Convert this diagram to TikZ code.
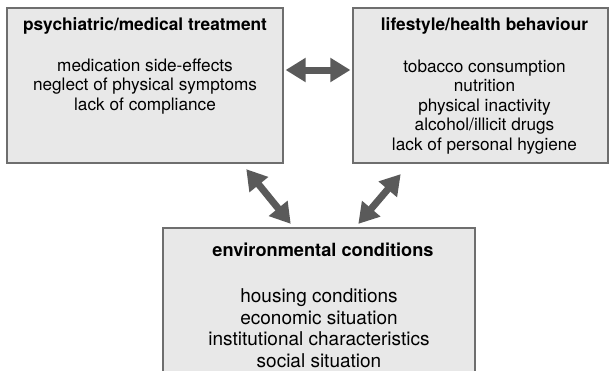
\documentclass[tikz,border=0pt]{standalone}
\usepackage{fontspec}
\setmainfont{TeX Gyre Heros}
\usetikzlibrary{arrows.meta,positioning}

\definecolor{boxfill}{HTML}{E8E8E8}
\definecolor{boxline}{HTML}{6E6E6E}
\definecolor{arrowgray}{HTML}{5A5A5A}

\begin{document}
\begin{tikzpicture}[x=1pt,y=1pt,semithick,
                    >={Triangle[width=23pt,length=20pt]}]
  \tikzstyle{box}=[draw=boxline,fill=boxfill,line width=1.2pt,inner sep=0pt]
  \tikzstyle{head}=[inner sep=0pt,anchor=base,font=\bfseries\fontsize{17.3}{19.5}\selectfont]
  \tikzstyle{bighead}=[inner sep=0pt,anchor=base,font=\bfseries\fontsize{18.2}{21}\selectfont]
  \tikzstyle{items}=[inner sep=0pt,anchor=base,align=center,font=\fontsize{17.2}{19.6}\selectfont]
  \tikzstyle{bigitems}=[inner sep=0pt,anchor=base,align=center,font=\fontsize{19}{21.7}\selectfont]
  \tikzstyle{link}=[<->,arrowgray,line width=7pt,shorten <=2pt,shorten >=2pt]

  \useasboundingbox (0,0) rectangle (609,-370);
  \clip (0,0) rectangle (609,-370);

  % the three boxes
  \node[box,minimum width=276,minimum height=155] (treat) at (145,-85.5) {};
  \node[box,minimum width=255,minimum height=155] (life)  at (480.5,-85.5) {};
  \node[box,minimum width=312,minimum height=170] (env)   at (319,-313) {};

  % texts (lists are placed by the baseline of their last line)
  \node[head] (treathead) at ([yshift=-23]treat.north) {psychiatric/medical treatment};
  \node[items] (treatlist) at ([yshift=-103]treat.north)
    {medication side-effects\\neglect of physical symptoms\\lack of compliance};

  \node[head] (lifehead) at ([xshift=4,yshift=-23.5]life.north) {lifestyle/health behaviour};
  \node[items] (lifelist) at ([xshift=4,yshift=-143]life.north)
    {tobacco consumption\\nutrition\\physical inactivity\\alcohol/illicit drugs\\lack of personal hygiene};

  \node[bighead] (envhead) at ([xshift=4,yshift=-29.5]env.north) {environmental conditions};
  \node[bigitems] (envlist) at ([yshift=-140]env.north)
    {housing conditions\\economic situation\\institutional characteristics\\social situation};

  % links
  \draw[link] ([yshift=15.5]treat.east) -- ([yshift=15.5]life.west);
  \draw[link] ([xshift=100,yshift=-4]treat.south) -- ([xshift=-27,yshift=2]env.north);
  \draw[link] ([xshift=38,yshift=2]env.north) -- ([xshift=-78.5,yshift=-9]life.south);
\end{tikzpicture}
\end{document}
